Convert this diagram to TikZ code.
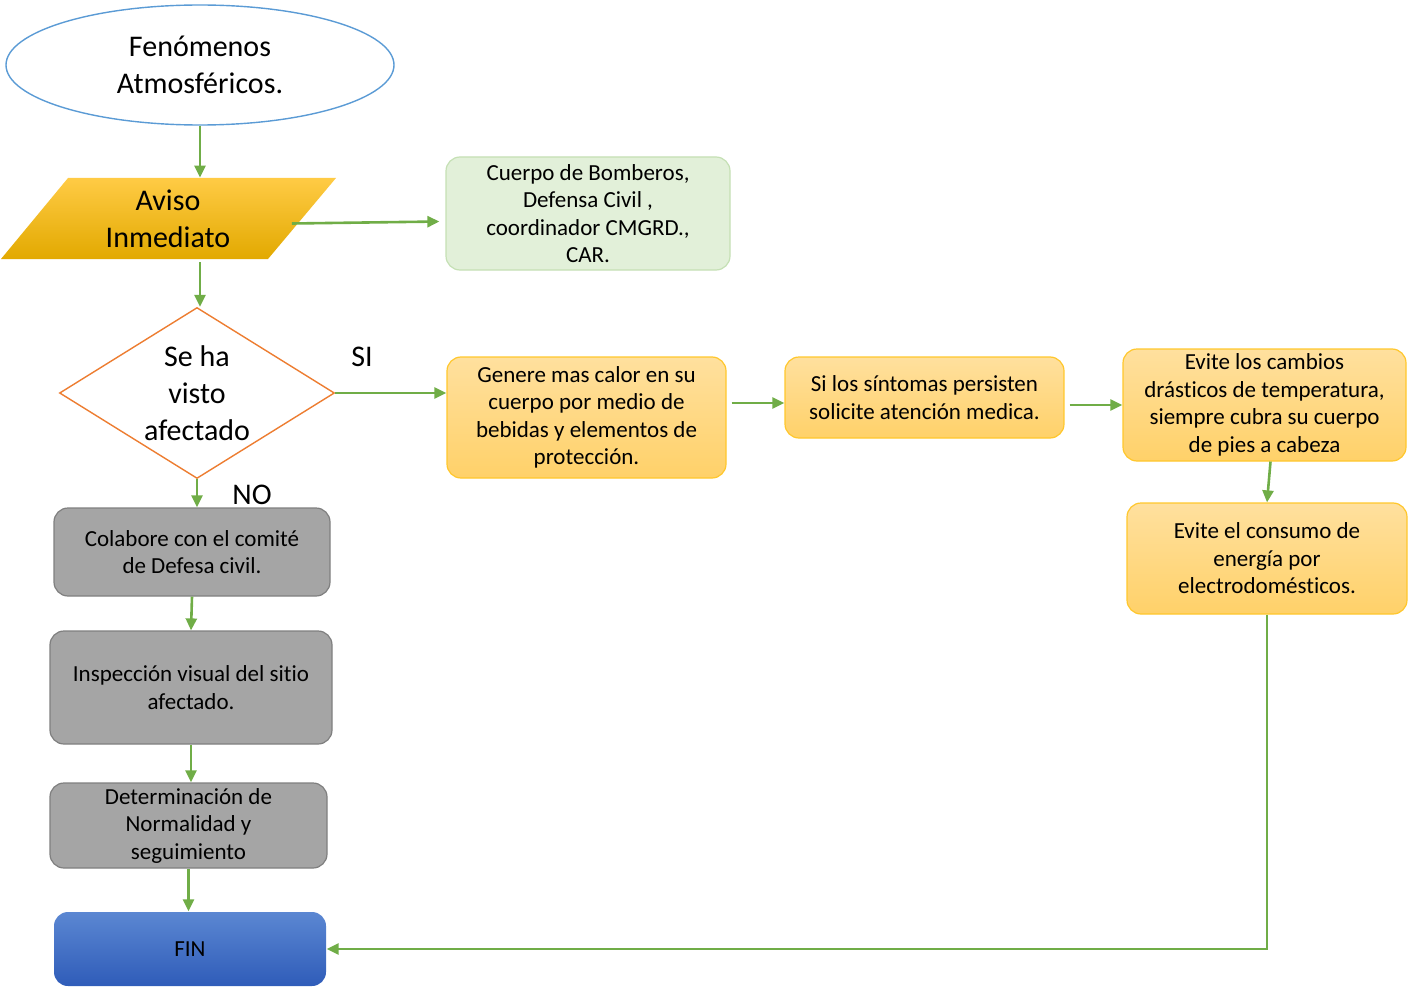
\documentclass[tikz,border=0pt]{standalone}
\usepackage{fontspec}
\setmainfont{Carlito}[Ligatures=NoCommon]
\usetikzlibrary{shapes.geometric,arrows.meta}
\definecolor{flecha}{HTML}{70AD47}
\definecolor{azulborde}{HTML}{5B9BD5}
\definecolor{naranjaborde}{HTML}{ED7D31}
\definecolor{verdefondo}{HTML}{E2F0D9}
\definecolor{verdeborde}{HTML}{C5E0B4}
\definecolor{amarilloA}{HTML}{FFCB45}
\definecolor{amarilloB}{HTML}{FFC000}
\definecolor{amarilloC}{HTML}{E2A900}
\definecolor{crema1}{HTML}{FFE09E}
\definecolor{crema2}{HTML}{FFD169}
\definecolor{cremaborde}{HTML}{FFC72C}
\definecolor{grisfondo}{HTML}{A5A5A5}
\definecolor{grisborde}{HTML}{7F7F7F}
\definecolor{azulA}{HTML}{5B87D2}
\definecolor{azulB}{HTML}{2F5CB9}
\begin{document}
\begin{tikzpicture}[x=0.5pt,y=-0.5pt,
        caja/.style={rectangle, rounded corners=7pt, line width=0.6pt, align=center, inner sep=0pt, font=\fontsize{11.5}{13.75}\selectfont},
        paso/.style={caja, top color=crema1, bottom color=crema2, draw=cremaborde},
        gris/.style={caja, fill=grisfondo, draw=grisborde},
        grande/.style={font=\fontsize{15}{18.5}\selectfont, align=center},
        arr/.style={draw=flecha, line width=1.3pt, -{Triangle[length=6pt,width=5.5pt]}}
    ]
        \useasboundingbox (0,0) rectangle (1409,990);

        \node[ellipse, draw=azulborde, line width=0.7pt, minimum width=194pt, minimum height=60pt, grande] (ell) at (200,65) {Fenómenos\\Atmosféricos.};

        \shade[top color=amarilloA, middle color=amarilloB, bottom color=amarilloC] (68,178) -- (336,178) -- (268,259) -- (1,259) -- cycle;
        \node[grande, minimum width=133.5pt, minimum height=40.5pt, inner sep=0pt] (aviso) at (168,218.5) {Aviso\\Inmediato};

        \node[caja, fill=verdefondo, draw=verdeborde, minimum width=142pt, minimum height=56.5pt] (cuerpo) at (588,213.5) {Cuerpo de Bomberos,\\Defensa Civil ,\\coordinador CMGRD.,\\CAR.};

        \node[diamond, draw=naranjaborde, line width=0.7pt, fill=white, minimum width=137.5pt, minimum height=85.5pt, inner sep=0pt] (vis) at (197,393) {};
        \node[grande] at (vis) {Se ha\\visto\\afectado};
        \node[grande] (si) at (362,357) {SI};
        \node[grande] (no) at (252,495) {NO};

        \node[paso, minimum width=139.5pt, minimum height=60.5pt] (gen) at (586.5,417.5) {Genere mas calor en su\\cuerpo por medio de\\bebidas y elementos de\\protección.};
        \node[paso, minimum width=139.5pt, minimum height=40.5pt] (sint) at (924.5,397.5) {Si los síntomas persisten\\solicite atención medica.};
        \node[paso, minimum width=141.5pt, minimum height=56pt] (evi) at (1264.5,405) {Evite los cambios\\drásticos de temperatura,\\siempre cubra su cuerpo\\de pies a cabeza};
        \node[paso, minimum width=140pt, minimum height=55.5pt] (ene) at (1267,558.5) {Evite el consumo de\\energía por\\electrodomésticos.};

        \node[gris, minimum width=138pt, minimum height=44pt] (col) at (192,552) {Colabore con el comité\\de Defesa civil.};
        \node[gris, minimum width=141pt, minimum height=56.5pt] (insp) at (191,687.5) {Inspección visual del sitio\\afectado.};
        \node[gris, minimum width=138.5pt, minimum height=42.5pt] (det) at (188.5,825.5) {Determinación de\\Normalidad y\\seguimiento};
        \node[caja, top color=azulA, bottom color=azulB, minimum width=136pt, minimum height=37pt] (fin) at (190,949) {FIN};

        \draw[arr] (ell.south) -- (ell.south |- aviso.north);
        \draw[arr] ([shift={(-10,5)}]aviso.east) -- ([shift={(-6,8)}]cuerpo.west);
        \draw[arr] ([yshift=-1.5pt]ell.south |- aviso.south) -- (ell.south |- vis.north);
        \draw[arr] (vis.east) -- (vis.east -| gen.west);
        \draw[arr] (vis.south) -- (vis.south |- col.north);
        \draw[arr] ([xshift=2.5pt,yshift=-2.75pt]gen.east |- sint.west) -- ([yshift=-2.75pt]sint.west);
        \draw[arr] ([xshift=2.5pt]sint.east |- evi.west) -- (evi.west);
        \draw[arr] ([xshift=3pt]evi.south) -- (ene.north);
        \draw[arr] (ene.south) |- (fin.east);
        \draw[arr] (col.south) -- (insp.north);
        \draw[arr] (insp.south) -- (insp.south |- det.north);
        \draw[arr] (det.south) -- (det.south |- fin.north);
    \end{tikzpicture}
\end{document}
